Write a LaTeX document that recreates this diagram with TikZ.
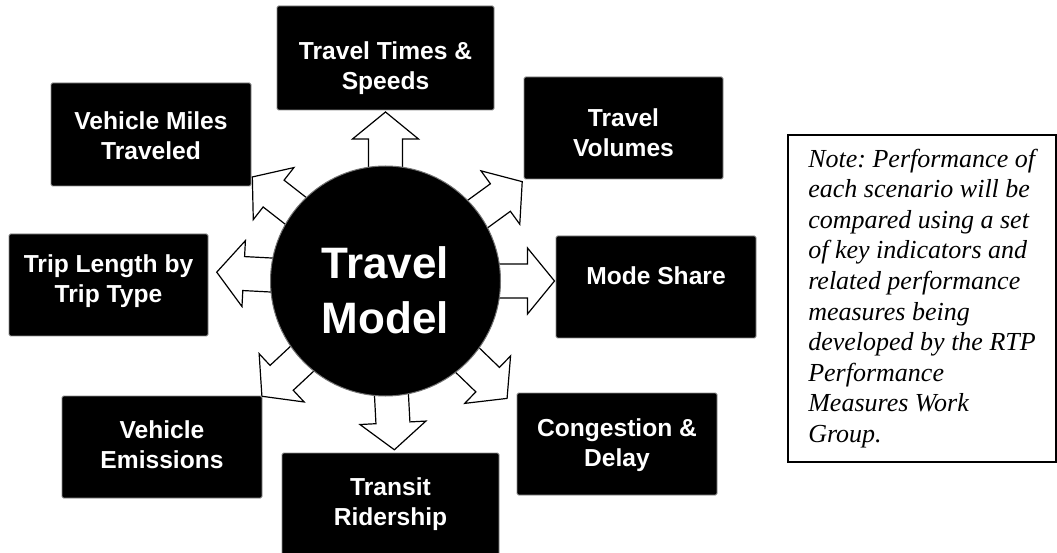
\documentclass[tikz,border=0pt]{standalone}
\usepackage{fontspec}
\setmainfont{Liberation Serif}
\setsansfont{Liberation Sans}
\usepackage{tikz}
\usetikzlibrary{backgrounds}

\newcommand{\boxlines}[3][46pt]{\rule{0pt}{#1}#2\\#3\rule[-20pt]{0pt}{20pt}}

\begin{document}
\begin{tikzpicture}[x=1pt,y=1pt,
    outbox/.style={fill=black, draw=black!45, line width=0.8pt, rounded corners=1.5pt,
      text=white, font=\sffamily\bfseries\fontsize{24.6}{30}\selectfont, align=center,
      inner sep=0pt, minimum width=200pt, minimum height=102pt},
    hub/.style={circle, fill=black, draw=black!55, line width=1pt, text=white,
      font=\sffamily\bfseries\fontsize{44}{55}\selectfont, align=center,
      inner sep=0pt, minimum size=230pt},
    fatarrow/.style={fill=white, draw=black, line width=1.2pt, line join=miter},
    notebox/.style={draw=black, line width=1.6pt, align=left,
      inner sep=0pt, minimum width=268pt, minimum height=327pt,
      font=\itshape\frenchspacing\fontsize{26}{30.6}\selectfont}]

\useasboundingbox (0,0) rectangle (1057,552);

%% model
\node[hub] at (385.5,271) (model){\rule{0pt}{51pt}Travel\\Model};

%% indicators
\node[outbox, minimum width=217pt, minimum height=94pt] at (385.5,494) (times){\boxlines[54pt]{Travel Times \&}{Speeds}}; %% top
\node[outbox, minimum width=199pt] at (623.5,424) (volumes){\boxlines[47pt]{Travel}{Volumes}};
\node[outbox] at (656,265) (mode){\boxlines[46pt]{Mode Share}{}};
\node[outbox] at (617,108) (congestion){\boxlines[35pt]{Congestion \&}{Delay}};
\node[outbox, minimum width=217pt] at (390.5,48) (transit){\boxlines[32pt]{Transit}{Ridership}}; %% bottom
\node[outbox] at (162,105) (emissions){\boxlines[33pt]{Vehicle}{Emissions}};
\node[outbox, minimum width=199pt] at (108.5,267) (triplength){\boxlines[25pt]{Trip Length by}{Trip Type}};
\node[outbox, minimum height=103pt] at (151,417.5) (vmt){\boxlines[40pt]{Vehicle Miles}{Traveled}};

%% arrows out of the model
\begin{scope}[on background layer]
\foreach \a in {90,36,0,-44,-87,-137,177,142}
  \draw[fatarrow, shift={(model.center)}, rotate=\a]
    (100,-17) -- (142,-17) -- (142,-33) -- (169,0) -- (142,33) -- (142,17) -- (100,17) -- cycle;
\end{scope}

%% note
\node[notebox] at (922,253.5) (note){Note: Performance of\\each scenario will be\\compared using a set\\of key indicators and\\related performance\\measures being\\developed by the RTP\\Performance\\Measures Work\\Group.};

\end{tikzpicture}
\end{document}
